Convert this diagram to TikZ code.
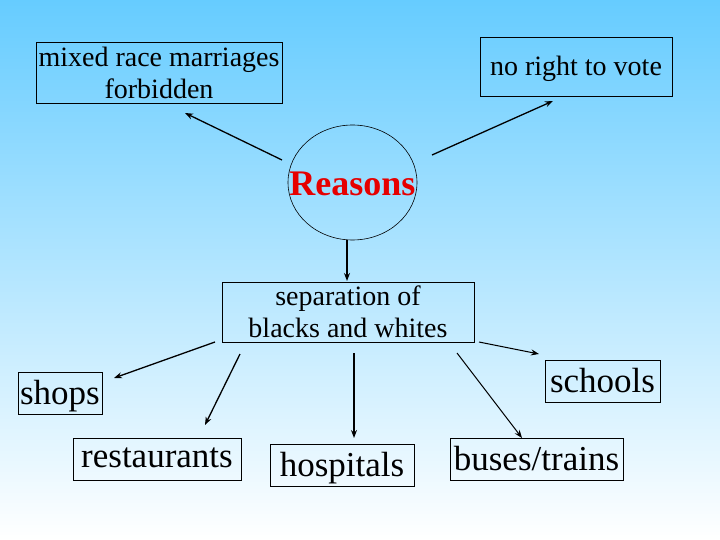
\documentclass[tikz,border=0pt]{standalone}
\usepackage{fontspec}
\setmainfont{Liberation Serif}
\usepackage{tikz}
\usetikzlibrary{arrows.meta}
\definecolor{skytop}{RGB}{102,204,255}
\definecolor{reasonred}{RGB}{230,0,0}
\tikzset{box/.style={draw, line width=0.7pt, inner sep=0pt, align=center}}
\tikzset{big/.style={box, minimum height=42pt, text depth=0.2em, font=\fontsize{35}{38}\selectfont}}
\tikzset{mid/.style={box, font=\fontsize{28}{32}\selectfont}}
\tikzset{arr/.style={line width=1.3pt, -{Stealth[length=8pt,width=6pt]}}}

\begin{document}
\begin{tikzpicture}[x=1pt, y=-1pt]

\shade[top color=skytop, bottom color=white] (0,0) rectangle (720,540);
\useasboundingbox (0,0) rectangle (720,540);

\node[mid, minimum width=246pt, minimum height=61pt] (mixed) at (159, 72.5) {mixed race marriages\\forbidden};
\node[mid, minimum width=192pt, minimum height=59pt, text depth=0.05em] (vote) at (576, 66.5) {no right to vote};
\node[inner sep=0pt, text=reasonred, font=\fontsize{36}{40}\selectfont\bfseries] (reasons) at (352.5, 184) {Reasons};
\draw[line width=0.6pt] (352.5, 182.5) ellipse [x radius=64.5, y radius=57.5];
\node[mid, minimum width=252pt, minimum height=60pt] (sep) at (348, 312) {separation of\\blacks and whites};

\node[big, minimum width=84pt] (shops) at (60, 393) {shops};
\node[big, minimum width=115pt] (schools) at (602.5, 381) {schools};
\node[big, minimum width=168pt] (rest) at (157, 459) {restaurants};
\node[big, minimum width=144pt] (hosp) at (342, 465) {hospitals};
\node[big, minimum width=173pt] (buses) at (536.5, 459) {buses/trains};

% arrow ends
\coordinate (mixedS) at (282, 160);
\coordinate (mixedE) at (185, 113);
\coordinate (voteS) at (432, 155);
\coordinate (voteE) at (553, 101);
\coordinate (sepS) at (347, 240);
\coordinate (sepE) at (347, 281);
\coordinate (shopsS) at (215, 342);
\coordinate (shopsE) at (114, 378);
\coordinate (restS) at (240, 354);
\coordinate (restE) at (205, 425);
\coordinate (hospS) at (354, 353);
\coordinate (hospE) at (354, 438);
\coordinate (busesS) at (457, 353);
\coordinate (busesE) at (522, 438);
\coordinate (schoolsS) at (479, 342);
\coordinate (schoolsE) at (539, 354);

\draw[arr] (mixedS) -- (mixedE);
\draw[arr] (voteS) -- (voteE);
\draw[arr] (sepS) -- (sepE);
\draw[arr] (shopsS) -- (shopsE);
\draw[arr] (restS) -- (restE);
\draw[arr] (hospS) -- (hospE);
\draw[arr, line width=1pt] (busesS) -- (busesE);
\draw[arr, line width=1pt] (schoolsS) -- (schoolsE);
\end{tikzpicture}
\end{document}
